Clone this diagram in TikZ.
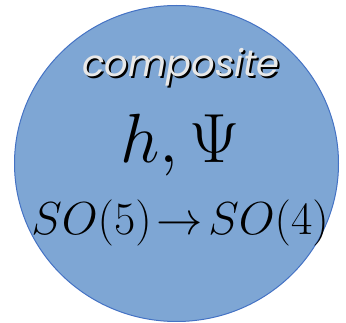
\documentclass[tikz,border=0pt]{standalone}
\usepackage{fontspec}
\newfontfamily\handfont{Poppins}
\usetikzlibrary{shapes.geometric}
\definecolor{ballfill}{RGB}{126,166,212}
\definecolor{balledge}{RGB}{68,114,196}
\definecolor{chalk}{RGB}{232,232,232}
\begin{document}
\begin{tikzpicture}[x=1pt, y=-1pt,
        ball/.style={ellipse, draw=balledge, fill=ballfill, line width=1pt, inner sep=0pt, minimum width=324pt, minimum height=316pt},
        label/.style={inner sep=0pt, anchor=base, font=\Huge, transform shape},
        handtext/.style={inner sep=0pt, anchor=base, font=\handfont\itshape\fontsize{37}{38}\selectfont}
    ]
        \useasboundingbox (0,0) rectangle (346,323);
        \node[ball] (ball) at (176.5,163.5) {};

        \node[handtext, text=black] (shadow) at (183,79) {composite};
        \node[handtext, text=chalk] (composite) at (181,77) {composite};
        \node[label, scale=2.8] (fields) at (180,163) {$h,\Psi$};
        \node[label, scale=1.86] (breaking) at (180,235) {$SO(5)\!\to\!SO(4)$};
    \end{tikzpicture}
\end{document}
